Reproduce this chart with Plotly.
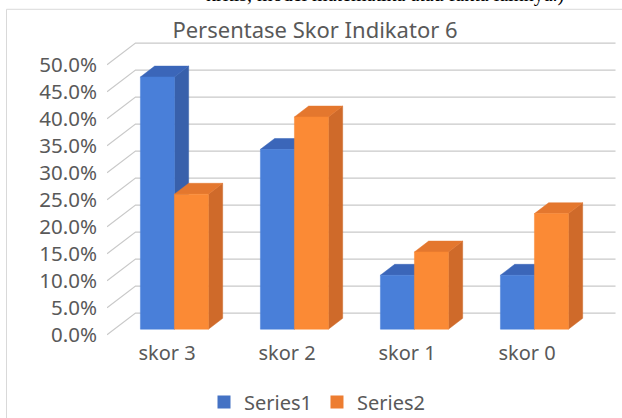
import plotly.graph_objects as go

# ---------------- data ----------------
categories = ["skor 3", "skor 2", "skor 1", "skor 0"]
series1 = [0.467, 0.333, 0.100, 0.100]
series2 = [0.250, 0.393, 0.143, 0.214]
series_names = ["Series1", "Series2"]
y_ticks = [0.0, 0.05, 0.10, 0.15, 0.20, 0.25, 0.30, 0.35, 0.40, 0.45, 0.50]
title_text = "Persentase Skor Indikator 6"
header_text = "kritis, model matematika atau fakta lainnya.)"

# ---------------- styling / geometry ----------------
W, H = 622, 418
FONT = "Noto Sans"
TXT = "#595959"
GRID = "#c9c9c9"
front_cols = ["#497fd9", "#fb8a35"]
top_cols = ["#3b66b9", "#e4772e"]
side_cols = ["#3860ab", "#cf6a2a"]
legend_cols = ["#4472c4", "#ed7d31"]

ML = 107.0          # pixel of front-left wall edge
PX_PER_X = 120.0    # px per category
PX_PER_Y = 540.0    # px per unit (100%)
FRONT_ZERO_PX = 335.0
DX = 0.2375         # depth offset in x units
DY = 0.0402         # depth offset in y units
BAR_W = 0.2833
D0, D1 = 0.26, 0.76  # bar front / back depth fraction

X0 = -0.5
X1 = len(categories) - 0.5 + DX + 0.004
Y0 = -0.004
Y1 = y_ticks[-1] + DY + 0.002
plot_w = (X1 - X0) * PX_PER_X
plot_h = (Y1 - Y0) * PX_PER_Y
MT = FRONT_ZERO_PX - Y1 * PX_PER_Y
MB = H - MT - plot_h
MR = W - ML - plot_w


def px_to_paper_x(px):
    return (px - ML) / plot_w


def px_to_paper_y(py):
    return (MT + plot_h - py) / plot_h


fig = go.Figure()

# gridlines: side wall diagonals + back wall horizontals
gx, gy = [], []
for v in y_ticks:
    gx += [X0, X0 + DX, len(categories) - 0.5 + DX, None]
    gy += [v, v + DY, v + DY, None]
fig.add_trace(go.Scatter(x=gx, y=gy, mode="lines", line=dict(color=GRID, width=1.2),
                         hoverinfo="skip", showlegend=False))

# 3D-looking bars
all_series = [series1, series2]
for s, vals in enumerate(all_series):
    fx, fy, tx, ty, sx, sy = [], [], [], [], [], []
    for i, v in enumerate(vals):
        x0 = i - BAR_W if s == 0 else i
        x1 = x0 + BAR_W
        ax, ay = D0 * DX, D0 * DY
        bx, by = D1 * DX, D1 * DY
        # front
        fx += [x0 + ax, x1 + ax, x1 + ax, x0 + ax, x0 + ax, None]
        fy += [ay, ay, v + ay, v + ay, ay, None]
        # top
        tx += [x0 + ax, x1 + ax, x1 + bx, x0 + bx, x0 + ax, None]
        ty += [v + ay, v + ay, v + by, v + by, v + ay, None]
        # right side
        sx += [x1 + ax, x1 + bx, x1 + bx, x1 + ax, x1 + ax, None]
        sy += [ay, by, v + by, v + ay, ay, None]
    for xs, ys, col in [(sx, sy, side_cols[s]), (tx, ty, top_cols[s]), (fx, fy, front_cols[s])]:
        fig.add_trace(go.Scatter(x=xs, y=ys, mode="lines", fill="toself", fillcolor=col,
                                 line=dict(color=col, width=0.5), hoverinfo="skip",
                                 showlegend=False))

# legend entries
for s, name in enumerate(series_names):
    fig.add_trace(go.Scatter(x=[None], y=[None], mode="markers", name=name,
                             marker=dict(symbol="square", size=13, color=legend_cols[s])))

# chart frame
fig.add_shape(type="rect", xref="paper", yref="paper",
              x0=px_to_paper_x(6.5), x1=px_to_paper_x(640),
              y0=px_to_paper_y(440), y1=px_to_paper_y(9.5),
              line=dict(color="#d9d9d9", width=1), layer="below")

# cut-off header text from the surrounding document
fig.add_annotation(text=header_text, xref="paper", yref="paper",
                   x=px_to_paper_x(385), y=px_to_paper_y(8.0), xanchor="center", yanchor="bottom",
                   showarrow=False, font=dict(family="Liberation Serif", size=20, color="black"))

fig.update_layout(
    width=W, height=H, autosize=False,
    margin=dict(l=ML, r=MR, t=MT, b=MB, pad=0),
    paper_bgcolor="white", plot_bgcolor="white",
    title=dict(text=title_text, x=315 / W, xanchor="center", y=(H - 30) / H, yanchor="middle",
               font=dict(family=FONT, size=22, color=TXT)),
    xaxis=dict(range=[X0, X1], tickvals=list(range(len(categories))), ticktext=categories,
               showgrid=False, zeroline=False, showline=False, ticks="",
               tickfont=dict(family=FONT, size=20, color=TXT), ticklabelstandoff=2,
               fixedrange=True),
    yaxis=dict(range=[Y0, Y1], tickvals=y_ticks, tickformat=".1%",
               showgrid=False, zeroline=False, showline=False, ticks="",
               tickfont=dict(family=FONT, size=20.5, color=TXT), ticklabelstandoff=9,
               fixedrange=True),
    legend=dict(orientation="h", xref="container", yref="container",
                x=317 / W, xanchor="center", y=(H - 402) / H, yanchor="middle",
                font=dict(family=FONT, size=20, color=TXT), bgcolor="rgba(0,0,0,0)"),
    showlegend=True,
)

fig.write_html("out.html", config={"displayModeBar": False, "staticPlot": True},
               post_script="document.body.style.margin='0px';document.body.style.overflow='hidden';")
